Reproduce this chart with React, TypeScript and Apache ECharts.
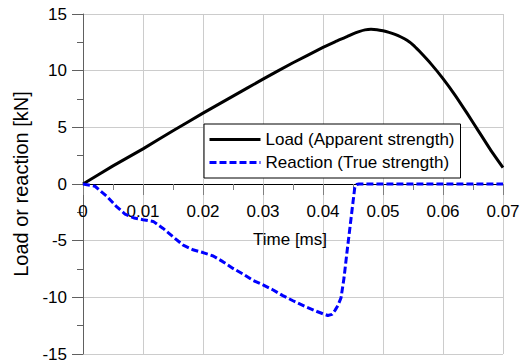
import React, { useEffect, useRef } from "react";
import * as echarts from "echarts";

const loadX = [0, 0.005, 0.01, 0.015, 0.02, 0.025, 0.03, 0.035, 0.04, 0.042, 0.044, 0.045, 0.046, 0.047, 0.048, 0.049, 0.05, 0.051, 0.052, 0.053, 0.054, 0.055, 0.056, 0.058, 0.06, 0.062, 0.064, 0.066, 0.068, 0.07];
const loadY = [0, 1.6, 3.1, 4.7, 6.25, 7.75, 9.25, 10.7, 12.05, 12.55, 13.0, 13.25, 13.45, 13.6, 13.65, 13.62, 13.52, 13.38, 13.2, 12.97, 12.68, 12.28, 11.75, 10.6, 9.3, 7.85, 6.25, 4.6, 2.95, 1.45];

const reactionX = [0, 0.002, 0.004, 0.0055, 0.007, 0.0085, 0.01, 0.0117, 0.0133, 0.015, 0.0167, 0.0183, 0.02, 0.0217, 0.0233, 0.025, 0.0267, 0.0283, 0.03, 0.0317, 0.0333, 0.035, 0.037, 0.039, 0.04, 0.0408, 0.0415, 0.042, 0.0425, 0.043, 0.0435, 0.044, 0.0445, 0.045, 0.0453, 0.0456, 0.046, 0.05, 0.06, 0.07];
const reactionY = [0, -0.2, -1.1, -1.95, -2.65, -3.0, -3.15, -3.3, -3.9, -4.65, -5.4, -5.8, -6.05, -6.35, -6.85, -7.45, -7.95, -8.5, -8.9, -9.35, -9.85, -10.3, -10.8, -11.25, -11.45, -11.6, -11.5, -11.15, -10.7, -10.05, -8.3, -6.0, -3.8, -1.6, -0.3, -0.05, 0, 0, 0, 0];

const seriesNames = ["Load (Apparent strength)", "Reaction (True strength)"];
const xTitle = "Time [ms]";
const yTitle = "Load or reaction [kN]";

const FONT = "'Liberation Sans', Arial, sans-serif";

const GRID_TOP = 14;
const GRID_BOTTOM = 10;
const CHART_H = 364;
const Y_MIN = -15;
const Y_MAX = 15;

export default function App() {
  const ref = useRef<HTMLDivElement>(null);
  useEffect(() => {
    if (!ref.current) return;
    const chart = echarts.init(ref.current, undefined, { renderer: "svg" });
    const plotH = CHART_H - GRID_TOP - GRID_BOTTOM;
    const zeroOffset = -plotH * (0 - Y_MIN) / (Y_MAX - Y_MIN);
    chart.setOption({
      animation: false,
      textStyle: { fontFamily: FONT },
      grid: { left: 83, right: 19, top: GRID_TOP, bottom: GRID_BOTTOM, containLabel: false, outerBoundsMode: "none" },
      legend: {
        orient: "vertical",
        left: 204,
        top: 124,
        padding: [7, 6, 7, 4],
        itemGap: 6,
        itemWidth: 51,
        itemHeight: 14,
        borderColor: "#000",
        borderWidth: 1,
        backgroundColor: "#fff",
        itemStyle: { opacity: 0 },
        lineStyle: { width: 3 },
        textStyle: { fontSize: 17, color: "#000", fontFamily: FONT },
        data: seriesNames,
      },
      xAxis: {
        type: "value",
        min: 0,
        max: 0.07,
        interval: 0.01,
        position: "bottom",
        offset: zeroOffset,
        name: xTitle,
        nameLocation: "middle",
        nameGap: 47,
        nameMoveOverlap: false,
        nameTextStyle: { fontSize: 17, color: "#000", fontFamily: FONT, padding: [0, 6, 0, 0] },
        axisLine: { onZero: false, lineStyle: { color: "#000", width: 1 } },
        axisTick: { show: true, length: 11, lineStyle: { color: "#808080" } },
        minorTick: { show: true, splitNumber: 2, length: 6, lineStyle: { color: "#808080" } },
        axisLabel: { fontSize: 17, color: "#000", margin: 19, fontFamily: FONT },
        splitLine: { show: true, lineStyle: { color: "#cccccc", width: 1 } },
      },
      yAxis: {
        type: "value",
        min: Y_MIN,
        max: Y_MAX,
        interval: 5,
        name: yTitle,
        nameLocation: "middle",
        nameRotate: 90,
        nameGap: 52,
        nameMoveOverlap: false,
        nameTextStyle: { fontSize: 20, color: "#000", fontFamily: FONT },
        axisLine: { show: true, onZero: false, lineStyle: { color: "#606060", width: 1 } },
        axisTick: { show: true, length: 11, lineStyle: { color: "#606060" } },
        minorTick: { show: true, splitNumber: 2, length: 6, lineStyle: { color: "#606060" } },
        axisLabel: { fontSize: 17, color: "#000", margin: 16, fontFamily: FONT },
        splitLine: { show: true, lineStyle: { color: "#cccccc", width: 1 } },
      },
      series: [
        {
          name: seriesNames[0],
          type: "line",
          symbol: "none",
          smooth: 0.15,
          data: loadX.map((x, i) => [x, loadY[i]]),
          lineStyle: { color: "#000", width: 3 },
          itemStyle: { color: "#000" },
          z: 3,
        },
        {
          name: seriesNames[1],
          type: "line",
          symbol: "none",
          data: reactionX.map((x, i) => [x, reactionY[i]]),
          lineStyle: { color: "#0000ff", width: 3, type: [7, 3] },
          itemStyle: { color: "#0000ff" },
          z: 4,
        },
      ],
    });
    return () => chart.dispose();
  }, []);
  return (
    <div
      ref={ref}
      style={{ position: "fixed", left: 0, top: 0, width: 522, height: 364, background: "#fff" }}
    />
  );
}
